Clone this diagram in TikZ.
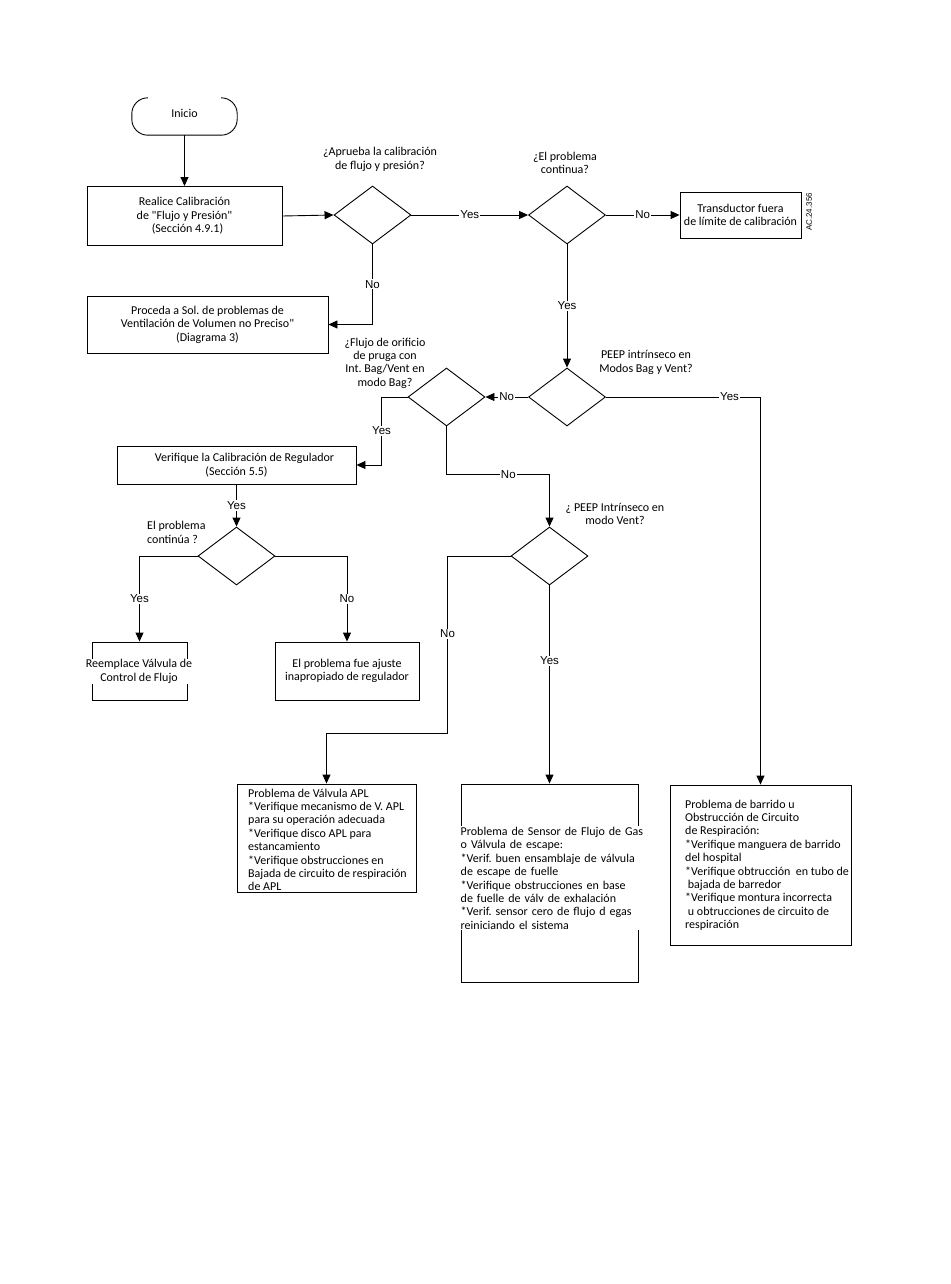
\documentclass[tikz,border=0pt]{standalone}
\usepackage{fontspec}
\setmainfont{Carlito}
\newfontfamily\arialfont{Liberation Sans}
\usetikzlibrary{shapes.geometric,arrows.meta,calc}
\begin{document}
\begin{tikzpicture}[x=1pt,y=-1pt,
  every node/.style={font=\fontsize{12}{13.4}\selectfont\frenchspacing, inner sep=0pt},
  boxn/.style={draw, line width=0.9pt, rectangle, align=center},
  dia/.style={draw, diamond, aspect=1.33, minimum width=77pt, minimum height=58pt, inner sep=0pt, line width=0.9pt},
  lbl/.style={fill=white, font=\arialfont\fontsize{11.5}{12}\selectfont, inner sep=1pt},
  qtxt/.style={align=center},
  arr/.style={line width=0.9pt, -{Triangle[length=9pt,width=8pt]}},
  ln/.style={line width=0.9pt}]
\useasboundingbox (0,0) rectangle (950,1284);
\fill[white] (0,0) rectangle (950,1284);

% terminal
\node[minimum width=105pt, minimum height=37pt] (inicio) at (184.5,116.5) {};
\draw[ln, rounded corners=16pt] ($(inicio.north west)+(16,0)$) -- (inicio.north west) -- (inicio.south west) -- (inicio.south east) -- (inicio.north east) -- ($(inicio.north east)+(-16,0)$);
\node (iniciot) at (184.5,113) {Inicio};

% boxes
\node[boxn, minimum width=195pt, minimum height=59pt] (realice) at (184.5,216) {Realice Calibración\\de \textquotedbl Flujo y Presión\textquotedbl\\\hspace*{6pt}(Sección 4.9.1)};
\node[boxn, minimum width=121pt, minimum height=46pt] (trans) at (740.5,215) {Transductor fuera\\de límite de calibración};
\node[rotate=90, font=\arialfont\fontsize{8}{9}\selectfont] (ac) at (809,212) {AC.24.356};
\node[boxn, minimum width=241pt, minimum height=57pt] (proceda) at (207.5,324.5) {Proceda a Sol. de problemas de\\Ventilación de Volumen no Preciso\textquotedbl\\(Diagrama 3)};
\node[boxn, minimum width=239pt, minimum height=38pt] (verif) at (236.5,465) {\hspace*{16pt}Verifique la Calibración de Regulador\\(Sección 5.5)};

\node[boxn, minimum width=95pt, minimum height=58pt] (reemp) at (139.5,671) {};
\node[fill=white, align=center, inner sep=1pt] (reempt) at (139,671.5) {Reemplace Válvula de\\Control de Flujo};
\node[boxn, minimum width=144pt, minimum height=58pt] (ajuste) at (347,671) {El problema fue ajuste\\inapropiado de regulador};

\node[boxn, minimum width=179pt, minimum height=108pt] (apl) at (326.5,838) {};
\node[anchor=north west, align=left, fill=white, inner sep=1pt] (aplt) at (247,787.5) {Problema de Válvula APL\\{}*Verifique mecanismo de V. APL\\para su operación adecuada\\{}*Verifique disco APL para\\estancamiento\\{}*Verifique obstrucciones en\\Bajada de circuito de respiración\\de APL};

\node[boxn, minimum width=177pt, minimum height=198pt] (sensor) at (549.5,883) {};
\node[anchor=north west, align=left, fill=white, inner sep=1pt, text width=184pt] (sensort) at (459.5,826) {Problema de Sensor de Flujo de Gas\\o Válvula de escape:\\{}*Verif. buen ensamblaje de válvula\\de escape de fuelle\\{}*Verifique obstrucciones en base\\de fuelle de válv de exhalación\\{}*Verif. sensor cero de flujo d egas\\reiniciando el sistema};

\node[boxn, minimum width=181pt, minimum height=160pt] (barrido) at (760.5,865) {};
\node[anchor=north west, align=left] (barridot) at (685,799.5) {Problema de barrido u\\Obstrucción de Circuito\\de Respiración:\\{}*Verifique manguera de barrido\\del hospital\\{}*Verifique obtrucción \ en tubo de\\\ bajada de barredor\\{}*Verifique montura incorrecta\\\ u obtrucciones de circuito de\\respiración};

% decisions
\node[dia] (d1) at (372.5,215) {};
\node[dia] (d2) at (567,215) {};
\node[dia] (d3) at (567,397) {};
\node[dia] (d4) at (446.5,397) {};
\node[dia] (d5) at (549.5,556) {};
\node[dia] (d6) at (236.5,556) {};

% questions
\node[qtxt] (q1) at (380,159.5) {¿Aprueba la calibración\\de flujo y presión?};
\node[qtxt] (q2) at (565,163) {¿El problema\\continua?};
\node[qtxt] (q3) at (646,362.5) {PEEP intrínseco en\\Modos Bag y Vent?};
\node[qtxt] (q4) at (385,363) {¿Flujo de orificio\\de pruga con\\Int. Bag/Vent en\\modo Bag?};
\node[qtxt] (q5) at (615,514) {¿ PEEP Intrínseco en\\modo Vent?};
\node[align=left, anchor=west] (q6) at (147,532.5) {El problema\\continúa ?};

% connectors
\draw[arr] (inicio.south) -- (realice.north);
\draw[arr] (realice.east) -- (d1.west);
\draw[arr] (d1.east) -- node[lbl]{Yes} (d2.west);
\draw[arr] (d2.east) -- node[lbl]{No} (trans.west);
\draw[arr] (d1.south) |- node[lbl, pos=0.25]{No} (proceda.east);
\draw[arr] (d2.south) -- node[lbl]{Yes} (d3.north);
\draw[arr] (d3.west) -- node[lbl]{No} (d4.east);
\draw[arr] (d3.east) -| node[lbl, pos=0.4]{Yes} (barrido.north);
\draw[arr] (d4.west) -- ++(-26,0) |- node[lbl, pos=0.25]{Yes} (verif.east);
\draw[arr] (d4.south) -- ++(0,48) -| node[lbl, pos=0.3]{No} (d5.north);
\draw[arr] (d5.west) -- ++(-63,0) -- node[lbl, pos=0.44]{No} ++(0,177) -| (apl.north);
\draw[arr] (d5.south) -- node[lbl, pos=0.38]{Yes} (sensor.north);
\draw[arr] (verif.south) -- node[lbl]{Yes} (d6.north);
\draw[arr] (d6.west) -| node[lbl, pos=0.75]{Yes} (reemp.north);
\draw[arr] (d6.east) -| node[lbl, pos=0.75]{No} (ajuste.north);
\end{tikzpicture}
\end{document}
